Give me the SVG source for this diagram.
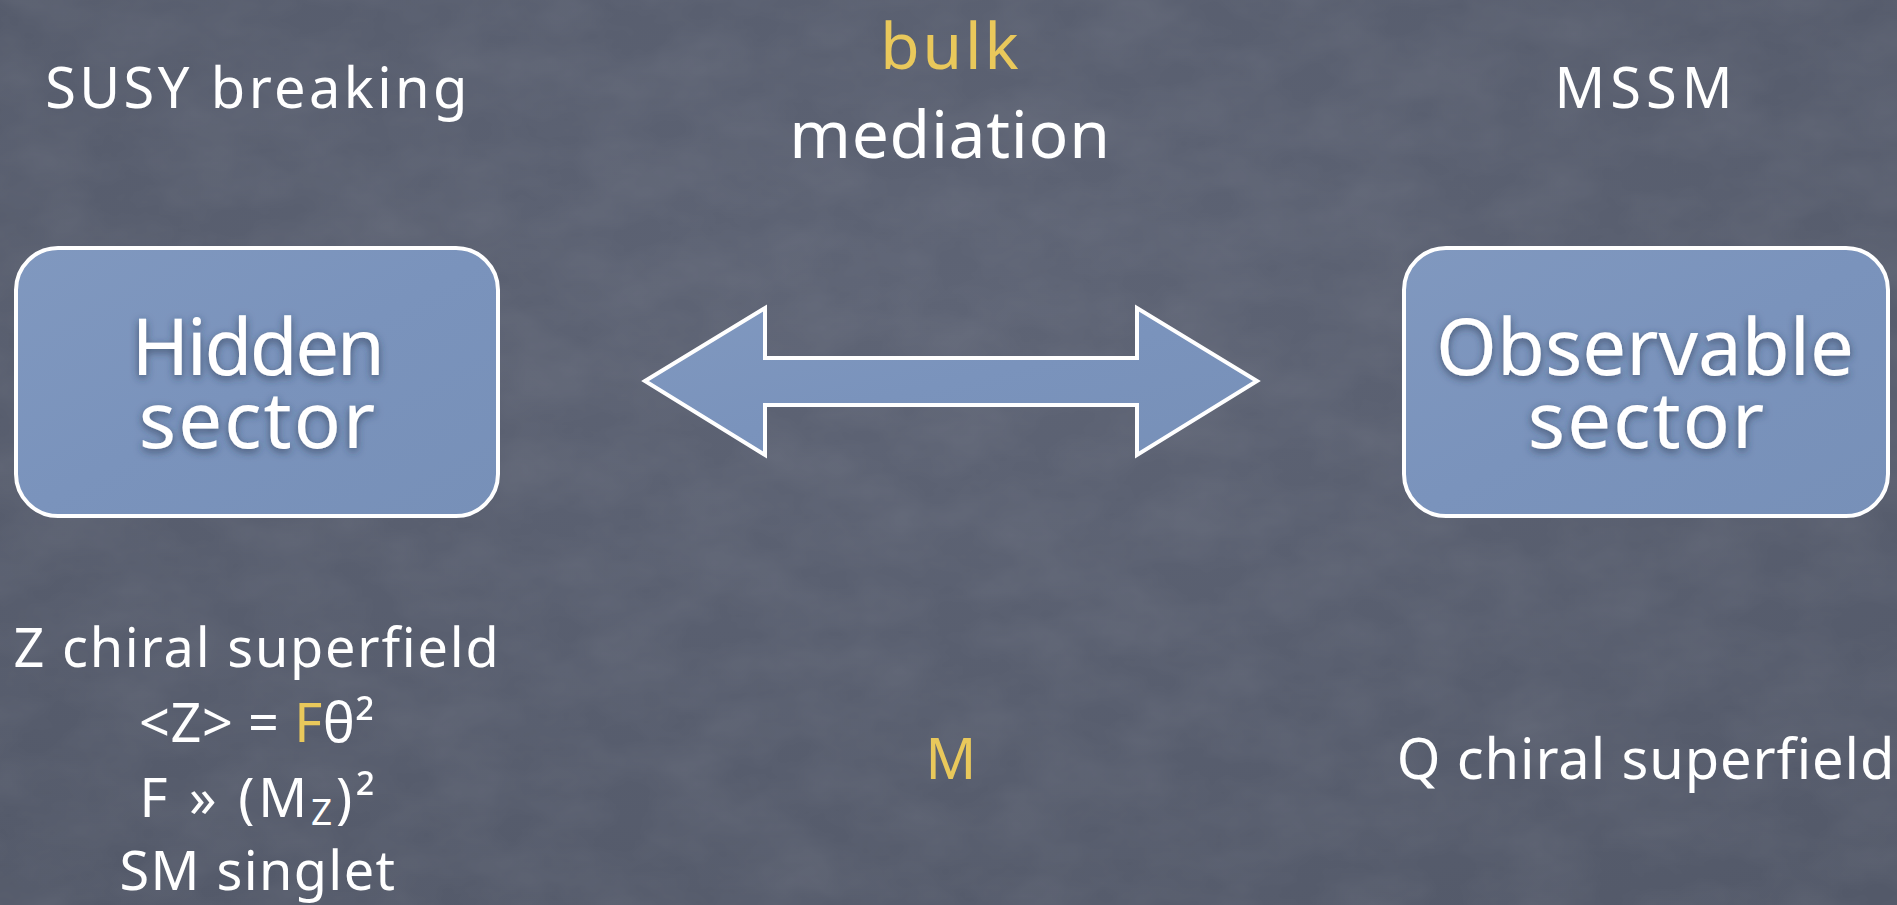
<svg xmlns="http://www.w3.org/2000/svg" width="1897" height="905" viewBox="0 0 1897 905">
<defs>
<radialGradient id="bg" cx="0.5" cy="0.35" r="0.8">
<stop offset="0" stop-color="#5e6475"/>
<stop offset="1" stop-color="#535969"/>
</radialGradient>
<linearGradient id="boxfill" x1="0" y1="0" x2="1" y2="1">
<stop offset="0" stop-color="#8098bf"/>
<stop offset="0.5" stop-color="#7a93bc"/>
<stop offset="1" stop-color="#7790b8"/>
</linearGradient>
<filter id="noise" x="0" y="0" width="100%" height="100%">
<feTurbulence type="fractalNoise" baseFrequency="0.012 0.02" numOctaves="4" seed="7"/>
<feColorMatrix type="matrix" values="0 0 0 0 1  0 0 0 0 1  0 0 0 0 1  0 0 0 0.09 -0.025"/>
</filter>
<filter id="shadow" x="-20%" y="-20%" width="140%" height="140%">
<feDropShadow dx="0" dy="3" stdDeviation="4" flood-color="#2c3750" flood-opacity="0.7"/>
</filter>
</defs>
<style>
text { font-family: "Noto Sans", "DejaVu Sans", sans-serif; fill: #ffffff; text-anchor: middle; }
.label { font-size: 56px; }
.small { font-size: 54px; }
.big { font-size: 66px; }
.box-text { font-size: 78px; filter: url(#shadow); }
.yellow { fill: #e9c85b; }
.box { fill: url(#boxfill); stroke: #ffffff; stroke-width: 4; }
</style>
<rect width="1897" height="905" fill="url(#bg)"/>
<rect width="1897" height="905" fill="#fff" filter="url(#noise)"/>
<g id="label-susy"><text class="label" x="258" y="108" letter-spacing="3.4">SUSY breaking</text></g>
<g id="label-mediation">
<text class="big" x="951"><tspan class="yellow" x="951" y="69" font-size="64" letter-spacing="3">bulk</tspan><tspan x="950" y="158" letter-spacing="0.7">mediation</tspan></text>
</g>
<g id="label-mssm"><text class="label" x="1646" y="108" letter-spacing="5">MSSM</text></g>
<g id="hidden-sector">
<rect class="box" x="16" y="248" width="482" height="268" rx="42"/>
<text class="box-text"><tspan x="257" y="375" letter-spacing="-2.5">Hidden</tspan><tspan x="258" y="448" letter-spacing="2">sector</tspan></text>
</g>
<g id="observable-sector">
<rect class="box" x="1404" y="248" width="484" height="268" rx="42"/>
<text class="box-text"><tspan x="1645" y="375">Observable</tspan><tspan x="1647" y="448" letter-spacing="2">sector</tspan></text>
</g>
<g id="connectors">
<polygon class="box" points="645,381 765,308 765,358 1137,358 1137,308 1257,381 1137,455 1137,405 765,405 765,455"/>
</g>
<g id="hidden-details">
<text class="small"><tspan x="257" y="667" letter-spacing="1.8">Z chiral superfield</tspan><tspan x="257" y="742" letter-spacing="0.6">&lt;Z&gt; = <tspan class="yellow">F</tspan>θ²</tspan><tspan x="259" y="817" letter-spacing="3.8">F » (M<tspan font-size="37" dy="8">Z</tspan><tspan dy="-8">)²</tspan></tspan><tspan x="258" y="890" letter-spacing="1.4">SM singlet</tspan></text>
</g>
<g id="mediation-detail"><text class="label yellow" x="951" y="779">M</text></g>
<g id="observable-detail"><text class="label" x="1646" y="779" letter-spacing="0.9">Q chiral superfield</text></g>
</svg>
